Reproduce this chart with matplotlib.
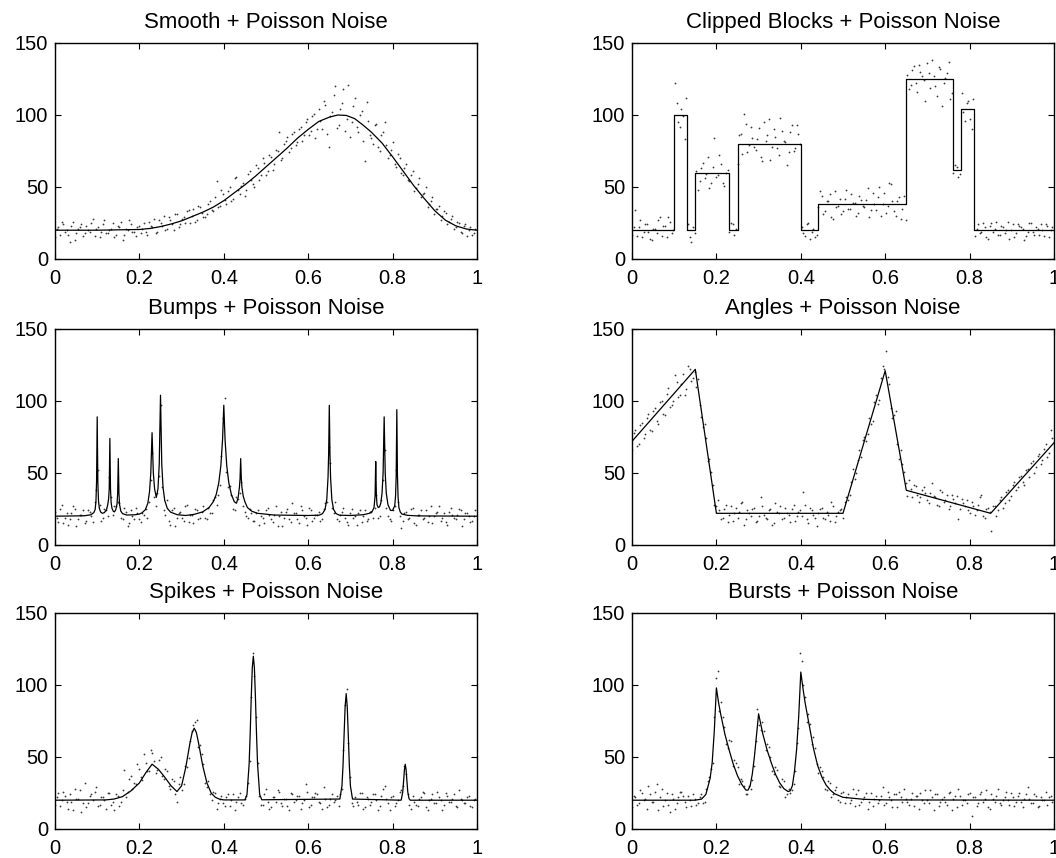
import numpy as np
import matplotlib.pyplot as plt

plt.rcParams['font.family'] = ['Liberation Sans', 'DejaVu Sans']

titles = ["Smooth + Poisson Noise", "Clipped Blocks + Poisson Noise",
          "Bumps + Poisson Noise", "Angles + Poisson Noise",
          "Spikes + Poisson Noise", "Bursts + Poisson Noise"]

x_ticks = [0, 0.2, 0.4, 0.6, 0.8, 1]
x_tick_labels = ["0", "0.2", "0.4", "0.6", "0.8", "1"]
y_ticks = [0, 50, 100, 150]

# noisy samples: the *_dots_a lists sit at i/128, the *_dots_b lists at (i+0.5)/128

# smooth curve
smooth_x = [0, 0.1, 0.2, 0.225, 0.25, 0.275, 0.3, 0.325, 0.35, 0.375, 0.4, 0.425, 0.45, 0.475,
            0.5, 0.525, 0.55, 0.575, 0.6, 0.625, 0.65, 0.67, 0.69, 0.71, 0.73, 0.75, 0.775,
            0.8, 0.825, 0.85, 0.875, 0.9, 0.925, 0.95, 0.975, 1.0]
smooth_y = [20, 20, 20.5, 21.2, 22.5, 24.3, 26.5, 29.5, 32.5, 36, 40.5, 46, 51.5, 57.5,
            64, 70.5, 77, 84, 90, 95.5, 98.5, 100, 99.7, 97.5, 93, 88, 80.5,
            71, 61, 51, 42, 33.5, 27, 23, 20.8, 20]
smooth_dots_a = [15, 22, 26, 19, 17, 23, 13, 21, 24, 18, 20, 25, 16, 22, 19, 27, 18, 21, 15, 23,
                 26, 17, 20, 24, 19, 22, 18, 25, 17, 23, 28, 19, 25, 30, 21, 27, 20, 31, 24, 29,
                 33, 25, 35, 27, 36, 29, 31, 40, 33, 54, 37, 45, 38, 50, 42, 57, 45, 53, 48, 61,
                 52, 65, 55, 70, 58, 72, 62, 76, 88, 70, 82, 74, 87, 79, 90, 82, 95, 86, 99, 84,
                 104, 90, 107, 78, 102, 120, 93, 108, 89, 121, 95, 112, 88, 103, 68, 96, 84, 93, 78, 86,
                 95, 70, 76, 66, 73, 60, 63, 55, 58, 47, 52, 43, 46, 36, 40, 31, 35, 27, 33, 24,
                 28, 21, 26, 19, 23, 16, 22, 18]
smooth_dots_b = [21, 17, 24, 20, 12, 26, 18, 22, 16, 23, 19, 28, 21, 15, 24, 18, 20, 25, 17, 22,
                 13, 21, 27, 19, 16, 23,
                 21, 19, 26, 22, 18, 27, 23, 20, 29, 24, 31, 22, 28, 25, 34, 30, 26, 37, 32, 29,
                 38, 34, 43, 36, 48, 41,
                 47, 40, 56, 48, 51, 44, 59, 55, 50, 63, 58, 67, 61, 71, 66, 75, 69, 80, 85, 77,
                 88, 81, 92, 86, 97, 89,
                 101, 90, 96, 110, 87, 99, 114, 91, 104, 118, 97, 85, 106, 92, 100, 82, 109, 86, 80, 94,
                 75, 88, 79, 72, 81, 64,
                 70, 58, 66, 54, 61, 49, 56, 45, 50, 38, 43, 35, 37, 30, 32, 26, 30, 22, 25, 18,
                 24, 20, 17, 21]

# clipped blocks: step edges and levels
blocks_x = [0, 0.1, 0.13, 0.15, 0.23, 0.25, 0.40, 0.44, 0.65, 0.76, 0.78, 0.81, 1.0]
blocks_y = [20, 100, 20, 60, 20, 80, 20, 38, 125, 62, 104, 20, 20]
blocks_dots_a = [17, 34, 22, 15, 24, 19, 13, 21, 27, 16, 23, 29, 18,
                 122, 95, 104, 83,
                 24, 12, 18,
                 48, 63, 56, 71, 53, 84, 58, 66, 51, 62,
                 25, 17,
                 66, 87, 101, 74, 92, 78, 83, 71, 95, 86, 69, 90, 77, 98, 82, 65, 88, 75, 93, 80,
                 18, 24, 14, 21, 17,
                 47, 31, 40, 45, 28, 36, 42, 33, 48, 35, 39, 30, 44, 37, 41, 29, 46, 34, 50, 38,
                 32, 53, 40, 30, 43, 35, 27,
                 118, 131, 122, 135, 127, 110, 129, 138, 120, 133, 106, 126, 137, 115,
                 65, 57,
                 115, 96, 110, 90,
                 16, 24, 19, 22, 14, 25, 21, 17, 23, 18, 26, 20, 15, 24, 22, 13, 19, 25, 17, 21,
                 24, 16, 23, 20]
blocks_dots_b = [22, 16, 27, 19, 24, 14, 21, 18, 29, 23, 15, 26, 20,
                 108, 92, 99, 112,
                 15, 22,
                 61, 54, 67, 59, 49, 64, 57, 72, 53, 60,
                 19, 24, 21,
                 86, 73, 94, 79, 84, 76, 91, 68, 82, 97, 78, 85, 72, 89, 81, 74, 93, 77, 87,
                 22, 16, 25, 19, 15,
                 36, 44, 33, 40, 29, 47, 37, 31, 42, 35, 45, 39, 32, 41, 36, 49, 34, 38, 43, 30,
                 46, 37, 52, 33, 40, 28, 44,
                 128, 121, 134, 116, 130, 124, 136, 119, 127, 113, 132, 122, 129, 111,
                 60, 64, 59,
                 102, 108, 97, 111,
                 21, 18, 25, 15, 23, 19, 26, 17, 22, 20, 14, 24, 18, 23, 21, 16, 25, 19, 22, 17,
                 20, 24, 15, 22]

# bumps
bumps_x = [0, 0.07, 0.085, 0.092, 0.095, 0.097, 0.0985, 0.1, 0.1015, 0.103, 0.105, 0.108,
           0.112, 0.117, 0.122, 0.125, 0.127, 0.1285, 0.13, 0.1315, 0.133, 0.135, 0.138,
           0.141, 0.144, 0.147, 0.1485, 0.15, 0.1515, 0.153, 0.156, 0.16, 0.17, 0.19, 0.2,
           0.206, 0.214, 0.22, 0.224, 0.227, 0.23, 0.233, 0.236, 0.24, 0.244, 0.247, 0.25,
           0.253, 0.256, 0.26, 0.266, 0.274, 0.29, 0.31, 0.33, 0.35, 0.365, 0.375, 0.382,
           0.388, 0.393, 0.397, 0.4, 0.403, 0.407, 0.412, 0.418, 0.425, 0.43, 0.434, 0.437,
           0.4385, 0.44, 0.4415, 0.443, 0.446, 0.45, 0.456, 0.466, 0.48, 0.52, 0.6, 0.626,
           0.634, 0.64, 0.644, 0.647, 0.6485, 0.65, 0.6515, 0.653, 0.656, 0.66, 0.666, 0.674,
           0.7, 0.73, 0.745, 0.752, 0.756, 0.7585, 0.76, 0.7615, 0.763, 0.766, 0.769, 0.772,
           0.775, 0.7775, 0.78, 0.7825, 0.785, 0.789, 0.795, 0.8, 0.803, 0.805, 0.807, 0.8085,
           0.81, 0.8115, 0.813, 0.815, 0.818, 0.822, 0.835, 0.86, 1.0]
bumps_y = [20, 20.3, 21, 22.5, 24.5, 30, 44, 89, 44, 31, 25.5, 23,
           22, 22.5, 24.5, 28, 32, 39, 74, 39, 29.5, 25.5, 23.5,
           23, 24.5, 28.5, 36, 60, 36, 28, 23.5, 21.8, 20.8, 21, 21.5,
           22.3, 24.5, 29, 37, 50, 78, 50, 39, 33, 39, 56, 104,
           56, 40, 31, 25.5, 22.8, 21, 20.5, 21.3, 23, 26, 30, 35,
           43, 55, 73, 97, 73, 55, 43, 35, 30, 29, 33, 40,
           46, 60, 46, 40, 34, 30, 26, 23.5, 22, 20.8, 20.5, 20.7,
           21.8, 24.8, 31.6, 47, 64, 97, 64, 47, 31.6, 24.8, 21.8, 20.7,
           20.5, 21, 22, 23.5, 26, 34, 58, 35, 28, 26, 26.5, 29,
           36, 50, 89, 50, 36, 28, 24, 24, 26, 27, 34, 48,
           94, 48, 33, 26, 23, 21.5, 20.6, 20.2, 20]
bumps_dots_a = [23, 16, 28, 19, 14, 22, 25, 18, 21, 15, 24, 20,
                30, 52, 17, 25, 20, 33, 27, 30, 19, 26,
                13, 24, 18, 22, 16, 21,
                19, 45, 33, 36, 97, 24, 31,
                14, 26, 19, 23, 17, 28, 21, 15, 24, 19,
                27, 18, 22, 31, 28, 42, 88, 51, 41, 25, 33, 36, 27, 20,
                25, 17, 22, 14, 19, 24, 21, 16, 27, 20, 13, 23, 18, 29, 22, 15, 24, 19, 26, 17,
                21, 23,
                18, 29, 68, 26, 30,
                17, 23, 19, 14, 25, 20, 22, 16, 24, 18,
                23, 26, 19, 31, 66, 20, 17, 27, 30, 12,
                22, 18, 25, 15, 21, 24, 19, 16, 27, 20, 23, 17, 22, 14, 26, 19, 21, 24, 18, 22,
                16, 20]
bumps_dots_b = [19, 25, 15, 22, 18, 27, 13, 21, 24, 17, 23,
                16, 38, 28, 19, 24, 47, 21, 27, 29, 18,
                23, 15, 20, 26, 18, 22,
                25, 30, 64, 27, 48, 40, 21,
                17, 24, 13, 22, 19, 27, 16, 21, 25, 18,
                23, 19, 26, 22, 33, 35, 62, 102, 40, 35, 24, 32, 44, 23, 19,
                22, 17, 24, 20, 15, 26, 18, 21, 13, 23, 19, 25, 16, 22, 18, 27, 20, 14, 24, 19,
                21, 17,
                25, 30, 57, 22, 18,
                21, 26, 16, 22, 19, 14, 24, 20, 17, 23,
                19, 35, 20, 45, 26, 18, 24, 52, 20,
                17, 23, 19, 26, 14, 21, 18, 24, 20, 15, 22, 27, 19, 16, 23, 21, 18, 25, 13, 22,
                20, 17, 24]

# angles: corner points
angles_x = [0, 0.15, 0.2, 0.5, 0.6, 0.65, 0.85, 1.0]
angles_y = [72, 122, 22, 22, 121, 38, 22, 71]
angles_dots_a = [66, 80, 70, 85, 77, 91, 79, 95, 84, 100, 90, 109, 97, 118, 103, 112, 104, 124, 114, 120,
                 115, 89, 84, 58, 51, 28,
                 31, 18, 25, 16, 27, 22, 19, 29, 14, 24, 20, 26, 17, 33, 21, 18, 25, 15, 23, 27,
                 19, 22, 16, 28, 20, 24, 37, 18, 26, 21, 13, 25, 19, 23, 17, 27, 20, 24,
                 19, 33, 35, 53, 50, 66, 73, 72, 88, 86, 104, 101, 124,
                 135, 112, 88, 93, 60, 56, 43,
                 45, 33, 41, 30, 38, 36, 29, 43, 33, 27, 37, 31, 25, 35, 29, 18, 32, 27, 24, 30,
                 21, 28, 35, 19, 26,
                 10, 27, 24, 33, 29, 38, 34, 44, 40, 48, 42, 53, 57, 50, 62, 56, 67, 61, 80]
angles_dots_b = [78, 69, 83, 74, 88, 80, 93, 86, 99, 91, 105, 96, 100, 113, 104, 119, 108, 122, 116,
                 110, 97, 82, 74, 60, 42, 27,
                 24, 19, 28, 21, 17, 26, 23, 30, 18, 22, 25, 16, 20, 27, 19, 24, 14, 29, 22, 18,
                 26, 21, 25, 17, 23, 20, 28, 15, 24, 19, 22, 26, 18, 21, 30, 16, 23, 25,
                 30, 31, 44, 46, 59, 61, 75, 77, 84, 99, 98, 116, 122,
                 117, 95, 90, 70, 66, 51, 34,
                 39, 42, 35, 33, 40, 31, 36, 34, 28, 38, 30, 35, 27, 32, 34, 25, 29, 31, 22, 27,
                 24, 33, 20, 25, 23,
                 27, 20, 31, 26, 37, 31, 42, 38, 47, 44, 52, 47, 58, 54, 63, 59, 70, 64, 74]

# spikes
spikes_x = [0, 0.12, 0.14, 0.16, 0.18, 0.2, 0.215, 0.23, 0.245, 0.26, 0.275, 0.289,
            0.3, 0.31, 0.32, 0.325, 0.33, 0.335, 0.34, 0.35, 0.36, 0.37, 0.38, 0.39, 0.4,
            0.45, 0.455, 0.46, 0.4625, 0.465, 0.4675, 0.47, 0.4725, 0.475, 0.4775, 0.48, 0.485, 0.49,
            0.675, 0.68, 0.6825, 0.685, 0.6875, 0.69, 0.6925, 0.695, 0.6975, 0.7, 0.705,
            0.82, 0.821, 0.824, 0.826, 0.828, 0.83, 0.832, 0.834, 0.836, 0.839, 0.842, 1.0]
spikes_y = [20, 20.2, 20.8, 22.5, 26.5, 32, 39, 45, 41.5, 36, 30, 26,
            30, 43, 60, 67, 70, 67, 60, 44, 32, 25, 22, 20.7, 20.2,
            20.2, 24, 45, 66, 91, 112, 120, 112, 91, 66, 45, 24, 20.3,
            20.8, 30, 44, 65, 85, 94, 85, 65, 44, 30, 20.8,
            20, 21, 25.7, 33, 41, 45, 41, 33, 25.7, 21, 20, 20]
spikes_dots_a = [17, 25, 20, 23, 14, 19, 28, 21, 12, 32, 18, 24, 26, 16, 22, 20, 25, 17, 13, 23,
                 19, 41, 26, 37, 32, 45, 36, 52, 40, 55, 47, 41, 50, 35, 40, 28, 33, 19,
                 36, 31, 43, 61, 72, 76, 58, 45, 29, 24, 26, 14, 21,
                 18, 22, 16, 24, 19, 25, 17,
                 23, 47, 122, 78, 23,
                 17, 28, 14, 22, 19, 26, 16, 21, 13, 24, 20, 23, 18, 31, 15, 22, 25, 19, 14, 21,
                 17, 24, 20, 16,
                 28, 86, 60, 18,
                 22, 17, 25, 15, 21, 19, 24, 13, 23, 30, 18, 22, 16, 20, 27,
                 44, 24,
                 14, 19, 16, 22, 25, 13, 21, 18, 26, 20, 17, 23, 19, 24, 15, 21, 18, 22, 16, 20]
spikes_dots_b = [22, 16, 26, 19, 24, 13, 21, 27, 18, 15, 23, 20, 29, 17, 22, 14, 25, 19, 24,
                 16, 27, 22, 35, 28, 31, 42, 34, 46, 40, 53, 39, 48, 37, 42, 30, 35, 24, 31,
                 27, 44, 49, 68, 74, 57, 52, 32, 33, 20, 25, 18, 23,
                 16, 24, 20, 13, 22, 18,
                 21, 32, 92, 106, 46, 17,
                 24, 19, 15, 22, 27, 18, 21, 16, 25, 19, 23, 14, 20, 26, 17, 22, 24, 18, 29, 15,
                 21, 19, 23,
                 24, 55, 97, 36, 16,
                 19, 25, 14, 22, 17, 24, 20, 16, 28, 21, 13, 23, 18, 26,
                 30, 38, 17,
                 23, 17, 21, 26, 15, 20, 24, 18, 22, 13, 25, 19, 21, 16, 27, 20, 18, 23, 15, 21]

# bursts
bursts_x = [0, 0.15, 0.165, 0.175, 0.185, 0.19, 0.195, 0.2, 0.205, 0.21, 0.22, 0.23, 0.24,
            0.25, 0.26, 0.27, 0.275, 0.28, 0.285, 0.29, 0.295, 0.3, 0.305, 0.31, 0.32, 0.33,
            0.34, 0.35, 0.36, 0.37, 0.375, 0.38, 0.385, 0.39, 0.395, 0.4, 0.405, 0.41, 0.42,
            0.43, 0.44, 0.45, 0.46, 0.47, 0.48, 0.5, 0.55, 0.6, 1.0]
bursts_y = [20, 20, 20.8, 24, 35, 46, 68, 98, 88, 80, 66, 55, 45,
            37, 31, 27, 27, 30, 38, 50, 65, 80, 73, 66, 55, 46,
            38, 32, 28, 26, 26.5, 30, 40, 55, 78, 109, 98, 88, 72,
            56, 44, 36, 30.5, 27, 24.5, 22, 20.6, 20.2, 20]
bursts_dots_a = [15, 22, 18, 25, 21, 30, 19, 26, 13, 28, 20, 17, 24, 14, 22, 26, 19, 23, 16, 21, 18,
                 24, 19, 33, 42, 78, 110, 88, 71, 56, 61, 48, 43, 35, 30, 24,
                 28, 44, 83, 69, 68, 59, 50, 38, 41, 29, 33, 24, 25,
                 31, 60, 122, 100, 74, 73, 64, 45, 43, 36, 27, 32, 24, 29, 19, 26,
                 22, 18, 28, 24, 17, 21, 25, 19, 16, 23, 20, 29, 18, 22, 15, 24, 26, 19, 21, 17,
                 25, 23, 14, 20, 27, 18, 22, 24, 16, 21, 19, 25, 13, 23, 28, 17, 20, 24, 9, 22,
                 18, 26, 21, 15, 24, 19, 28, 17, 22, 20, 25, 16, 23, 19, 21, 29, 18, 24, 15, 22,
                 20, 17, 23]
bursts_dots_b = [23, 17, 27, 20, 14, 24, 19, 31, 22, 16, 25, 12, 21, 18, 26, 23, 15, 20, 24, 17, 22,
                 18, 28, 36, 46, 105, 82, 78, 59, 62, 44, 46, 31, 33, 24, 30,
                 34, 61, 72, 74, 55, 57, 40, 43, 30, 35, 22, 28, 27,
                 40, 70, 117, 92, 80, 59, 56, 39, 40, 28, 33, 22, 27, 20, 25, 18,
                 24, 20, 16, 27, 19, 22, 14, 25, 21, 18, 23, 17, 26, 20, 24, 15, 22, 28, 19, 21,
                 16, 23, 25, 18, 20, 27, 13, 24, 19, 22, 17, 26, 21, 15, 23, 20, 18, 25, 22, 16,
                 24, 19, 27, 14, 21, 23, 18, 20, 26, 17, 22, 19, 25, 15, 24, 21, 18, 23, 16, 20,
                 26, 22, 19]


def desenhar_painel(ax, titulo, linha_x, linha_y, pontos_a, pontos_b, degraus=False):
    n = len(pontos_a)
    xa = np.arange(n) / n
    xb = (np.arange(len(pontos_b)) + 0.5) / len(pontos_b)
    for px, py in ((xa, pontos_a), (xb, pontos_b)):
        ax.plot(px, py, 'o', color='#3a3a3a', markersize=1.3, markeredgewidth=0)
    ax.plot(linha_x, linha_y, color='black', linewidth=0.9,
            drawstyle='steps-post' if degraus else 'default')
    ax.set_xlim(0, 1)
    ax.set_ylim(0, 150)
    ax.set_xticks(x_ticks)
    ax.set_xticklabels(x_tick_labels)
    ax.set_yticks(y_ticks)
    ax.tick_params(direction='in', top=True, right=True, length=4, width=0.8, labelsize=14.5)
    ax.tick_params(axis='x', pad=7)
    ax.tick_params(axis='y', pad=5)
    for s in ax.spines.values():
        s.set_linewidth(1.0)
    ax.set_title(titulo, fontsize=16, pad=11)


fig = plt.figure(figsize=(10.56, 8.58), dpi=100)

col_left = [55 / 1056, 632 / 1056]
row_bottom = [1 - 259 / 858, 1 - 545 / 858, 1 - 829 / 858]
w = 422 / 1056
h = 216 / 858

paineis = [
    (smooth_x, smooth_y, smooth_dots_a, smooth_dots_b, False),
    (blocks_x, blocks_y, blocks_dots_a, blocks_dots_b, True),
    (bumps_x, bumps_y, bumps_dots_a, bumps_dots_b, False),
    (angles_x, angles_y, angles_dots_a, angles_dots_b, False),
    (spikes_x, spikes_y, spikes_dots_a, spikes_dots_b, False),
    (bursts_x, bursts_y, bursts_dots_a, bursts_dots_b, False),
]

for k, (lx, ly, pa, pb, deg) in enumerate(paineis):
    ax = fig.add_axes([col_left[k % 2], row_bottom[k // 2], w, h])
    desenhar_painel(ax, titles[k], lx, ly, pa, pb, deg)

fig.savefig("out.png", dpi=100)
